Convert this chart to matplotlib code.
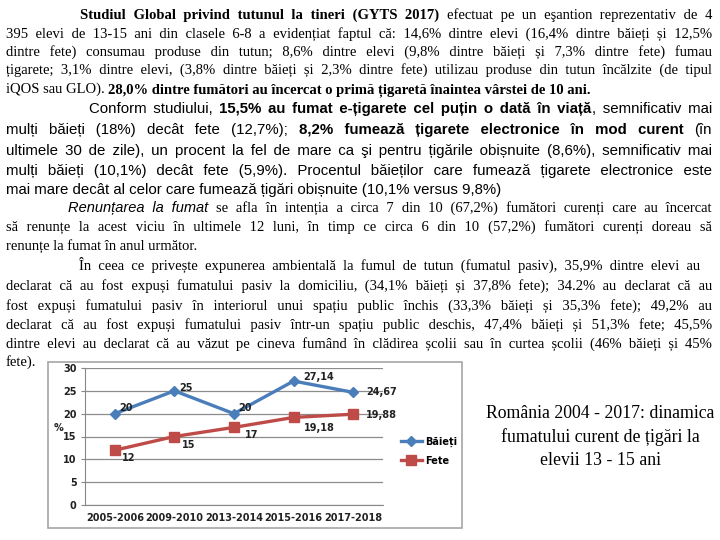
import matplotlib
matplotlib.use('Agg')
import matplotlib.pyplot as plt
from matplotlib.patches import Rectangle
from matplotlib.font_manager import FontProperties

W, H = 720, 540

# chart data
years = ['2005-2006', '2009-2010', '2013-2014', '2015-2016', '2017-2018']
baieti = [20, 25, 20, 27.14, 24.67]
fete = [12, 15, 17, 19.18, 19.88]
baieti_labels = ['20', '25', '20', '27,14', '24,67']
fete_labels = ['12', '15', '17', '19,18', '19,88']
series_names = ['Băieți', 'Fete']
chart_title = 'România 2004 - 2017: dinamica\nfumatului curent de țigări la\nelevii 13 - 15 ani'

# text paragraphs ('*' toggles bold, '_' toggles italic sans)
para1 = [
    '*Studiul Global privind tutunul la tineri (GYTS 2017)* efectuat pe un eşantion reprezentativ de 4',
    '395 elevi de 13-15 ani din clasele 6-8 a evidențiat faptul că: 14,6% dintre elevi (16,4% dintre băieți și 12,5%',
    'dintre fete) consumau produse din tutun; 8,6% dintre elevi (9,8% dintre băieți și 7,3% dintre fete) fumau',
    'țigarete; 3,1% dintre elevi, (3,8% dintre băieți și 2,3% dintre fete) utilizau produse din tutun încălzite (de tipul',
    'iQOS sau GLO). *28,0% dintre fumători au încercat o primă țigaretă înaintea vârstei de 10 ani.*',
]
para2 = [
    'Conform studiului, *15,5% au fumat e-țigarete cel puțin o dată în viață*, semnificativ mai',
    'mulți băieți (18%) decât fete (12,7%); *8,2% fumează țigarete electronice în mod curent* (în',
    'ultimele 30 de zile), un procent la fel de mare ca şi pentru țigările obișnuite (8,6%), semnificativ mai',
    'mulți băieți (10,1%) decât fete (5,9%). Procentul băieților care fumează țigarete electronice este',
    'mai mare decât al celor care fumează țigări obișnuite (10,1% versus 9,8%)',
]
para3 = [
    '_Renunțarea la fumat_ se afla în intenția a circa 7 din 10 (67,2%) fumători curenți care au încercat',
    'să renunțe la acest viciu în ultimele 12 luni, în timp ce circa 6 din 10 (57,2%) fumători curenți doreau să',
    'renunțe la fumat în anul următor.',
]
para4 = [
    'În ceea ce privește expunerea ambientală la fumul de tutun (fumatul pasiv), 35,9% dintre elevi au',
    'declarat că au fost expuși fumatului pasiv la domiciliu, (34,1% băieți și 37,8% fete); 34.2% au declarat că au',
    'fost expuși fumatului pasiv în interiorul unui spațiu public închis (33,3% băieți și 35,3% fete); 49,2% au',
    'declarat că au fost expuși fumatului pasiv într-un spațiu public deschis, 47,4% băieți și 51,3% fete; 45,5%',
    'dintre elevi au declarat că au văzut pe cineva fumând în clădirea școlii sau în curtea școlii (46% băieți și 45%',
    'fete).',
]

SERIF = ['Liberation Serif', 'DejaVu Serif']
SANS = ['Liberation Sans', 'DejaVu Sans']
HAIR, THIN = '\u200a', '\u2009'

fig = plt.figure(figsize=(W / 100, H / 100), dpi=100)
fig.patch.set_facecolor('white')
renderer = fig.canvas.get_renderer()


def fx(x):
    return x / W


def fy(y):
    return 1 - y / H


def parse(line):
    words, cur, seg = [], [], ''
    style = 'n'
    for ch in line:
        if ch in '*_':
            if seg:
                cur.append((seg, style))
                seg = ''
            toggled = 'b' if ch == '*' else 'i'
            style = 'n' if style == toggled else toggled
        elif ch == ' ':
            if seg:
                cur.append((seg, style))
                seg = ''
            if cur:
                words.append(cur)
                cur = []
        else:
            seg += ch
    if seg:
        cur.append((seg, style))
    if cur:
        words.append(cur)
    return words


def fprop(family, style, size):
    if style == 'b':
        return FontProperties(family=family, weight='bold', size=size)
    if style == 'i':
        return FontProperties(family=SANS, style='italic', size=size)
    return FontProperties(family=family, size=size)


def tw(s, fp):
    if not s:
        return 0.0
    return renderer.get_text_width_height_descent(s, fp, ismath=False)[0]


def gap_chars(fp):
    base = tw('xx', fp)
    return {' ': tw('x x', fp) - base, THIN: tw('x' + THIN + 'x', fp) - base,
            HAIR: tw('x' + HAIR + 'x', fp) - base}


def best_gap(need, cw):
    best, err = ' ', None
    for ns in range(0, 5):
        for nt in range(0, 4):
            for nh in range(0, 4):
                if ns + nt + nh == 0:
                    continue
                w = ns * cw[' '] + nt * cw[THIN] + nh * cw[HAIR]
                e = abs(w - need)
                if err is None or e < err:
                    best, err = ' ' * ns + THIN * nt + HAIR * nh, e
    return best


def draw_para(lines, ys, family, size, indent, right=712, left=6, right_first=None):
    parsed = [parse(l) for l in lines]
    sp = gap_chars(fprop(family, 'n', size))[' ']
    scale = 1.0
    for i, words in enumerate(parsed[:-1]):
        x0 = indent if i == 0 else left
        x1 = right_first if (i == 0 and right_first) else right
        nat = sum(tw(s, fprop(family, st, size)) for w in words for s, st in w) + 0.6 * sp * (len(words) - 1)
        scale = min(scale, (x1 - x0) / nat)
    size = size * scale
    for i, (words, yc) in enumerate(zip(parsed, ys)):
        x0 = indent if i == 0 else left
        x1 = right_first if (i == 0 and right_first) else right
        last = i == len(parsed) - 1
        # target x of each piece
        pieces = []
        widths = []
        for j, w in enumerate(words):
            ww = 0
            for k, (s, st) in enumerate(w):
                pw = tw(s, fprop(family, st, size))
                pieces.append([j, k, s, st, ww, pw])
                ww += pw
            widths.append(ww)
        if last or len(words) < 2:
            gap = gap_chars(fprop(family, 'n', size))[' ']
        else:
            gap = (x1 - x0 - sum(widths)) / (len(words) - 1)
        wx = []
        x = x0
        for ww in widths:
            wx.append(x)
            x += ww + gap
        # group consecutive pieces with the same style into text segments
        segs = []
        for p in pieces:
            if segs and segs[-1][0] == p[3]:
                segs[-1][1].append(p)
            else:
                segs.append((p[3], [p]))
        yb = yc + 0.33 * size * 100 / 72
        for st, plist in segs:
            fp = fprop(family, st, size)
            cw = gap_chars(fp)
            sx = wx[plist[0][0]] + plist[0][4]
            text = plist[0][2]
            for j, k, s, _, off, pw in plist[1:]:
                need = (wx[j] + off - sx) - tw(text, fp)
                if k == 0:
                    if last:
                        text += ' '
                    else:
                        text += best_gap(need, cw)
                text += s
            fig.text(fx(sx), fy(yb), text, fontproperties=fp, va='baseline', ha='left', color='black')


draw_para(para1, [14, 33, 51, 69, 88], SERIF, 10.5, indent=80)
draw_para(para2, [108, 129, 150, 170, 189], SANS, 10.8, indent=89)
draw_para(para3, [207, 226, 245], SERIF, 10.5, indent=68)
draw_para(para4, [265, 285, 305, 324, 343, 361], SERIF, 10.5, indent=79, right_first=700)

# chart frame
fig.add_artist(Rectangle((fx(48), fy(528)), fx(462 - 48), (528 - 362) / H,
                         transform=fig.transFigure, fill=False, edgecolor='#A6A6A6', lw=1.2))

ax = fig.add_axes([fx(85), fy(505), fx(383 - 85), (505 - 368) / H])
x = range(len(years))
ax.plot(x, baieti, color='#4A7EBB', lw=2.4, marker='D', ms=5, label=series_names[0])
ax.plot(x, fete, color='#BE4B48', lw=2.4, marker='s', ms=7, label=series_names[1])
ax.set_xlim(-0.5, len(years) - 0.5)
ax.set_ylim(0, 30)
ax.set_yticks(range(0, 31, 5))
ax.set_xticks(list(x))
ax.set_xticklabels(years, fontsize=7, fontweight='bold', family='DejaVu Sans', color='#222222')
for lab in ax.get_yticklabels():
    lab.set_fontsize(7)
    lab.set_fontweight('bold')
    lab.set_color('#222222')
ax.tick_params(axis='x', length=0, pad=6)
ax.tick_params(axis='y', length=3, color='#888888', pad=3)
ax.grid(axis='y', color='#8C8C8C', lw=0.9)
ax.set_axisbelow(True)
for s in ['top', 'right']:
    ax.spines[s].set_visible(False)
for s in ['left', 'bottom']:
    ax.spines[s].set_color('#888888')

# data labels (offsets in pixels)
b_off = [(4, 6), (5, 3), (4, 6), (10, 4), (13, 0)]
f_off = [(7, -8), (8, -8), (11, -8), (10, -11), (13, -1)]
for i in x:
    ax.annotate(baieti_labels[i], (i, baieti[i]), xytext=(b_off[i][0] * 0.72, b_off[i][1] * 0.72),
                textcoords='offset points', ha='left', va='center', fontsize=7, fontweight='bold', color='#222222')
    ax.annotate(fete_labels[i], (i, fete[i]), xytext=(f_off[i][0] * 0.72, f_off[i][1] * 0.72),
                textcoords='offset points', ha='left', va='center', fontsize=7, fontweight='bold', color='#222222')

fig.text(fx(58), fy(428), '%', fontsize=7, fontweight='bold', ha='center', va='center', color='#222222')

leg = fig.legend(loc='upper left', bbox_to_anchor=(fx(392), fy(428)), frameon=False,
                 prop=dict(size=7, weight='bold'), handlelength=2.2, handletextpad=0.3, labelspacing=0.9)

fig.text(fx(600), fy(437), chart_title, family=SERIF, fontsize=12.8, ha='center', va='center',
         linespacing=1.45, color='black')

fig.savefig('out.png', dpi=100)
